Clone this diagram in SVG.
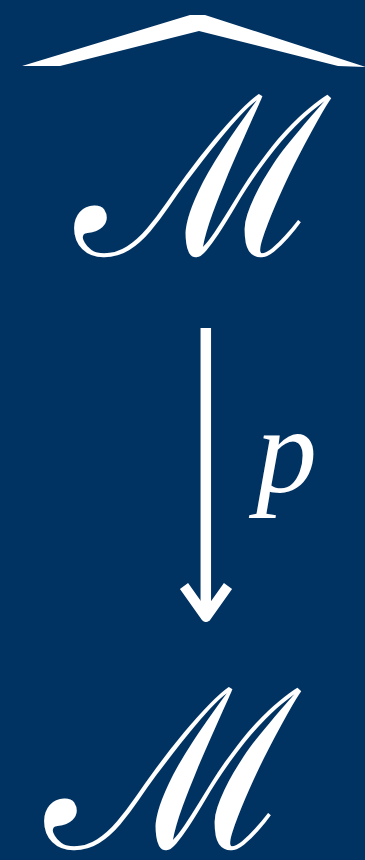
<svg xmlns="http://www.w3.org/2000/svg" width="365" height="860" viewBox="0 0 365 860">
<style>
.lbl{fill:#fff;font-family:"DejaVu Serif",serif}
.p{fill:#fff;font-family:"Liberation Serif",serif;font-style:italic}
.edge{stroke:#fff;fill:none}
</style>
<rect width="365" height="860" fill="#003262"/>
<g id="node-Mhat">
<polygon points="22,66 190,15 205,15 366,67 338,66 199,31 60,66" fill="#fff"/>
<text class="lbl" x="75" y="255" font-size="222">ℳ</text>
</g>
<g id="node-M">
<text class="lbl" x="45" y="848" font-size="222">ℳ</text>
</g>
<g id="connectors">
<line class="edge" x1="205.8" y1="328" x2="205.8" y2="612" stroke-width="10.5"/>
<polyline class="edge" points="184,586 206,617 228,586" stroke-width="10" stroke-linejoin="round"/>
<text class="p" x="256" y="492" font-size="122">p</text>
</g>
</svg>
